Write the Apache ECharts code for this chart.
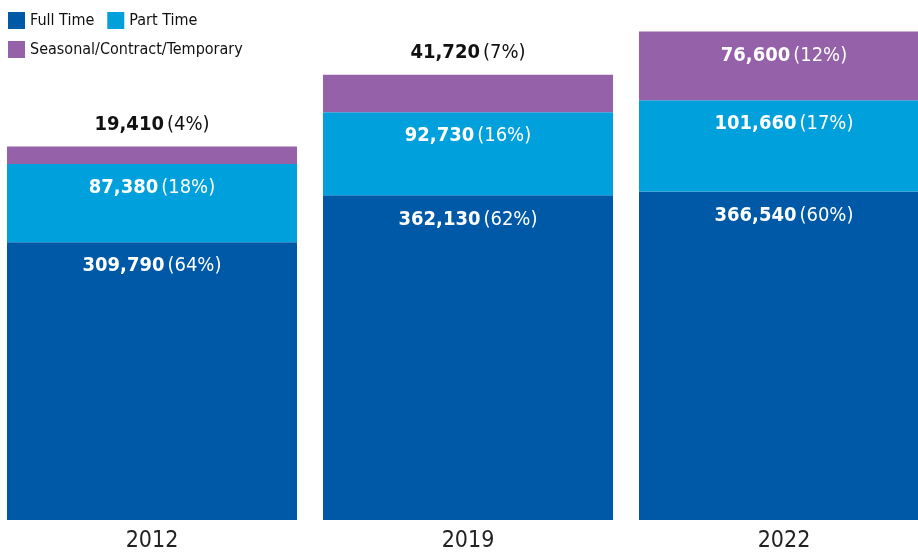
<!DOCTYPE html>
<html>
<head>
<meta charset="utf-8">
<script src="https://cdn.jsdelivr.net/npm/echarts@6/dist/echarts.min.js"></script>
<style>
  html, body { margin: 0; padding: 0; background: #fff; }
  #chart { width: 918px; height: 554px; }
</style>
</head>
<body>
<div id="chart"></div>
<script>
const years = ['2012', '2019', '2022'];
const fullTime = [309790, 362130, 366540];
const partTime = [87380, 92730, 101660];
const seasonal = [19410, 41720, 76600];
const fullPct = ['64%', '62%', '60%'];
const partPct = ['18%', '16%', '17%'];
const seasPct = ['4%', '7%', '12%'];

// condensed face: stretch keyword is slipped into the weight slot of the canvas font string
const FONT = "'DejaVu Sans'";
const W_BOLD = 'bold condensed';
const W_NORM = 'normal condensed';

const fmt = v => v.toLocaleString('en-US');

function richLabel(color) {
    return {
        num: { fontFamily: FONT, fontSize: 20, fontWeight: W_BOLD, color: color },
        pct: { fontFamily: FONT, fontSize: 20, fontWeight: W_NORM, color: color, padding: [0, 0, 0, 3] }
    };
}

// inside label at top of segment
function insideLabel(pcts) {
    return {
        show: true,
        position: 'insideTop',
        distance: 14,
        formatter: p => '{num|' + fmt(p.value) + '}{pct|(' + pcts[p.dataIndex] + ')}',
        rich: richLabel('#ffffff')
    };
}

// seasonal: the small bars get the label above, in black
const seasonalData = seasonal.map((v, i) => {
    if (i < 2) {
        return {
            value: v,
            label: {
                show: true,
                position: 'top',
                distance: 12,
                formatter: p => '{num|' + fmt(p.value) + '}{pct|(' + seasPct[p.dataIndex] + ')}',
                rich: richLabel('#111111')
            }
        };
    }
    return { value: v, label: insideLabel(seasPct) };
});

const chart = echarts.init(document.getElementById('chart'));
chart.setOption({
    animation: false,
    backgroundColor: '#fff',
    color: ['#0059a6', '#00a0dc', '#9561a8'],
    legend: [{
        left: 3,
        top: 7,
        itemWidth: 17,
        itemHeight: 17,
        itemGap: 13,
        icon: 'rect',
        textStyle: { fontFamily: FONT, fontWeight: W_NORM, fontSize: 16, color: '#111' },
        data: ['Full Time', 'Part Time']
    }, {
        left: 3,
        top: 36,
        itemWidth: 17,
        itemHeight: 17,
        icon: 'rect',
        textStyle: { fontFamily: FONT, fontWeight: W_NORM, fontSize: 16, color: '#111' },
        data: ['Seasonal/Contract/Temporary']
    }],
    grid: { left: -6, width: 948, top: 0, bottom: 34, outerBoundsMode: 'none' },
    xAxis: {
        type: 'category',
        data: years,
        axisLine: { show: false },
        axisTick: { show: false },
        axisLabel: { fontFamily: FONT, fontWeight: W_NORM, fontSize: 23, color: '#222', margin: 10 }
    },
    yAxis: {
        type: 'value',
        min: 0,
        max: 580000,
        show: false,
        splitLine: { show: false }
    },
    series: [{
        name: 'Full Time',
        type: 'bar',
        stack: 'total',
        barWidth: 290,
        data: fullTime,
        label: insideLabel(fullPct)
    }, {
        name: 'Part Time',
        type: 'bar',
        stack: 'total',
        barWidth: 290,
        data: partTime,
        label: insideLabel(partPct)
    }, {
        name: 'Seasonal/Contract/Temporary',
        type: 'bar',
        stack: 'total',
        barWidth: 290,
        data: seasonalData
    }]
});
</script>
</body>
</html>
